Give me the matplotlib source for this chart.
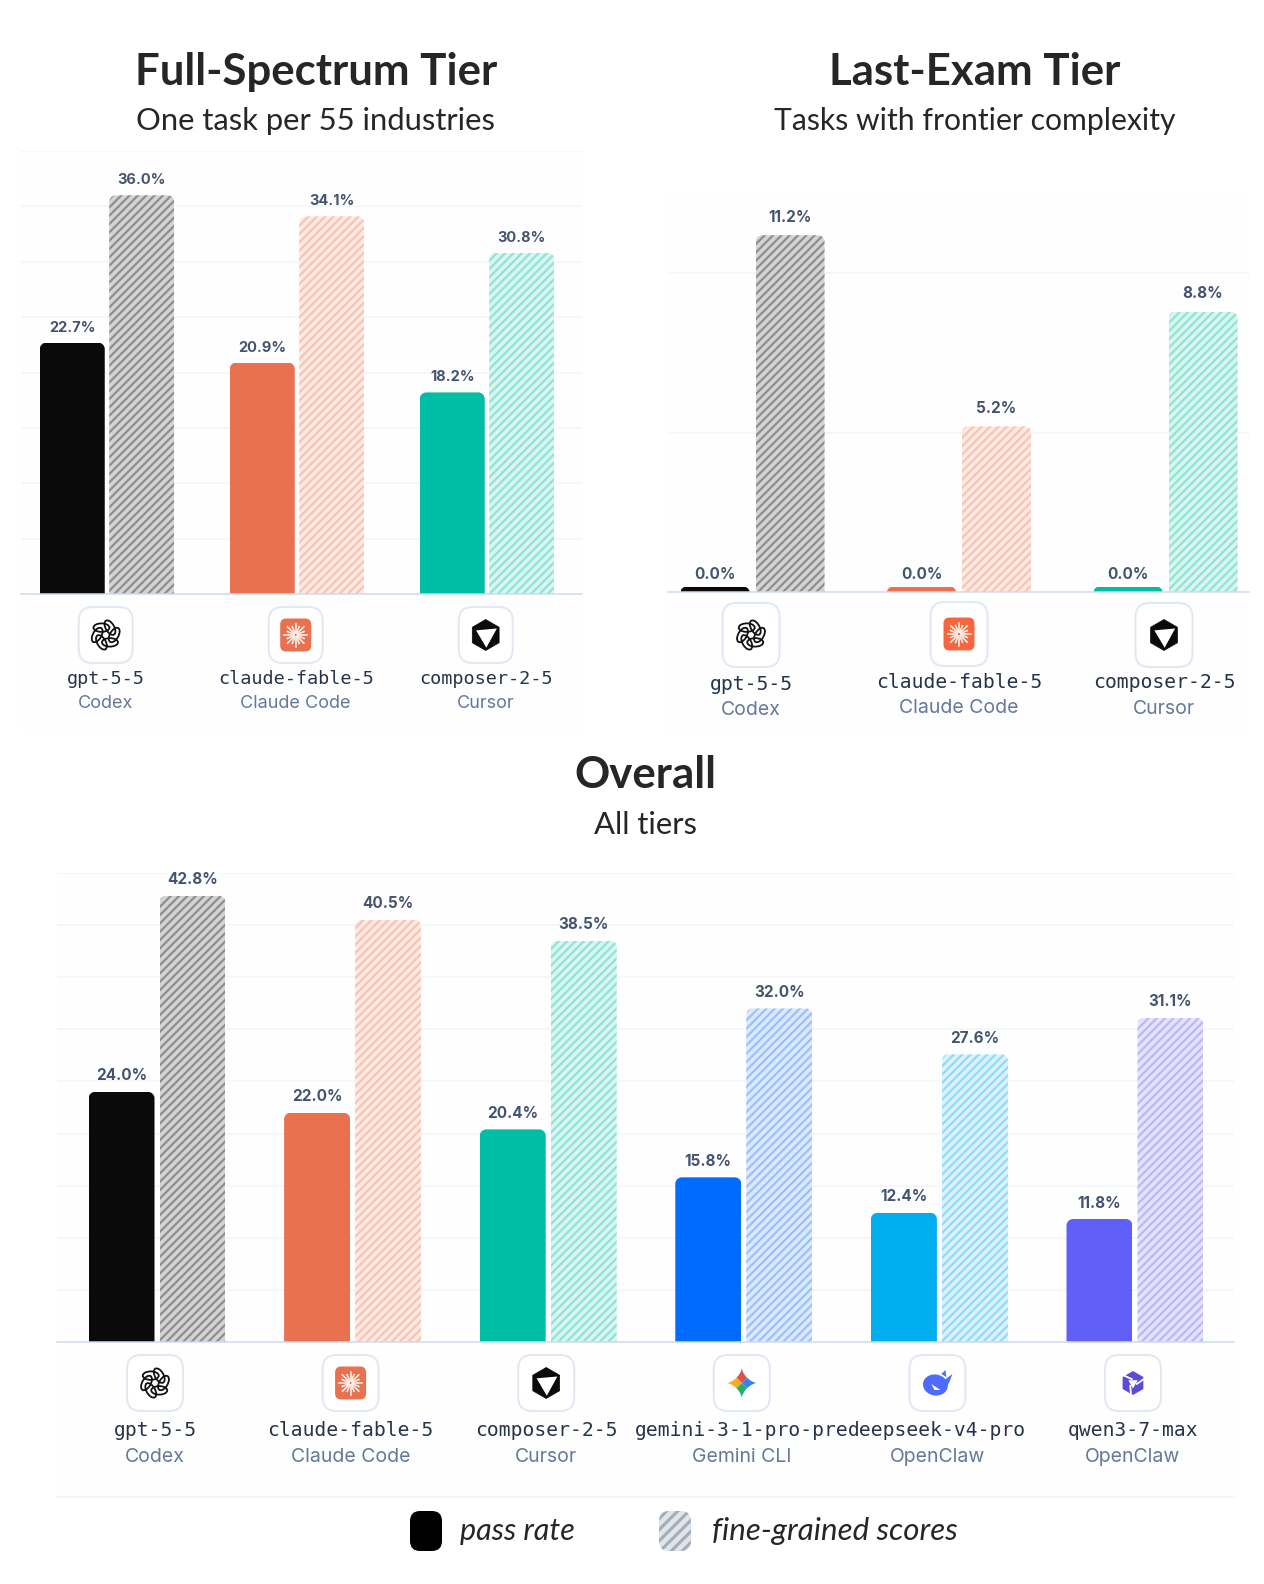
import numpy as np
import matplotlib
matplotlib.use('Agg')
import matplotlib.pyplot as plt
from matplotlib.patches import FancyBboxPatch, PathPatch, Polygon, Ellipse, Rectangle
from matplotlib.path import Path

W, H = 1264, 1584
DPI = 100

# data
full_models = ['gpt-5-5', 'claude-fable-5', 'composer-2-5']
full_agents = ['Codex', 'Claude Code', 'Cursor']
full_pass = [22.7, 20.9, 18.2]
full_fine = [36.0, 34.1, 30.8]

exam_models = ['gpt-5-5', 'claude-fable-5', 'composer-2-5']
exam_agents = ['Codex', 'Claude Code', 'Cursor']
exam_pass = [0.0, 0.0, 0.0]
exam_fine = [11.2, 5.2, 8.8]

all_models = ['gpt-5-5', 'claude-fable-5', 'composer-2-5', 'gemini-3-1-pro-pre', 'deepseek-v4-pro', 'qwen3-7-max']
all_agents = ['Codex', 'Claude Code', 'Cursor', 'Gemini CLI', 'OpenClaw', 'OpenClaw']
all_pass = [24.0, 22.0, 20.4, 15.8, 12.4, 11.8]
all_fine = [42.8, 40.5, 38.5, 32.0, 27.6, 31.1]

# solid colour, hatch background, hatch stripe
solid = ['#0a0a0a', '#e9714f', '#00bda5', '#006cff', '#00aef0', '#6060f8']
light = ['#d4d4d4', '#fdeae4', '#d9f5f0', '#dbe8fe', '#d9f2fd', '#e4e2fd']
stripe = ['#8e8e8e', '#f9c3b2', '#90e3d6', '#9cc0fb', '#93daf9', '#bcb8f8']
icons = ['openai', 'fable', 'cursor', 'gemini', 'deepseek', 'qwen']

MONO = 'DejaVu Sans Mono'
SANS = 'Inter'
HEAD = 'Lato'
plt.rcParams['hatch.linewidth'] = 1.6

fig = plt.figure(figsize=(W/DPI, H/DPI), dpi=DPI, facecolor='white')


def px_axes(zorder):
    a = fig.add_axes([0, 0, 1, 1], zorder=zorder)
    a.set_xlim(0, W)
    a.set_ylim(H, 0)
    a.axis('off')
    return a


bg = px_axes(-1)
ov = px_axes(5)


def rounded_top(x0, x1, top, rx, ry):
    k = 0.45
    verts = [(x0, 0), (x0, top-ry), (x0, top-ry*k), (x0+rx*k, top), (x0+rx, top),
             (x1-rx, top), (x1-rx*k, top), (x1, top-ry*k), (x1, top-ry), (x1, 0), (x0, 0)]
    codes = [Path.MOVETO, Path.LINETO, Path.CURVE4, Path.CURVE4, Path.CURVE4,
             Path.LINETO, Path.CURVE4, Path.CURVE4, Path.CURVE4, Path.LINETO, Path.CLOSEPOLY]
    return Path(verts, codes)


def draw_panel(box, ymax, first_x, step, bar_w, gap, pass_vals, fine_vals, val_size, val_off):
    """box = left, right, top, baseline [px]; first_x and step are group centres [px]"""
    left, right, top, base = box
    ax = fig.add_axes([left/W, 1-base/H, (right-left)/W, (base-top)/H], zorder=1)
    ax.patch.set_alpha(0)
    ax.set_xlim((left-first_x)/step, (right-first_x)/step)
    ax.set_ylim(0, ymax)
    ax.set_yticks(np.arange(5, ymax+0.1, 5))
    ax.set_xticks([])
    ax.tick_params(left=False, labelleft=False)
    ax.grid(axis='y', color='#f1f5f9', lw=1.1)
    ax.set_axisbelow(True)
    for s in ['left', 'right', 'top']:
        ax.spines[s].set_visible(False)
    ax.spines['bottom'].set_color('#cfdbe9')
    ax.spines['bottom'].set_linewidth(1.1)

    w = bar_w/step
    off = (bar_w+gap)/2/step
    px_y = (base-top)/ymax
    rx = 6.5/step
    ry = 6.5/px_y
    stub = 5.5/px_y  # 0.0 bars still show a small stub

    for i, (p, f) in enumerate(zip(pass_vals, fine_vals)):
        h = max(p, stub)
        b1 = ax.bar(i-off, h, w, color=solid[i], lw=0)[0]
        b2 = ax.bar(i+off, f, w, facecolor=light[i], edgecolor=stripe[i], hatch='////', lw=0)[0]
        for b, v in [(b1, h), (b2, f)]:
            x0 = b.get_x()
            clip = PathPatch(rounded_top(x0, x0+w, v, min(rx, w/2), min(ry, v)), transform=ax.transData)
            b.set_clip_path(clip)
        ax.annotate(f'{p:.1f}%', (i-off, h), xytext=(0, val_off if p > 0 else 12), textcoords='offset pixels',
                    ha='center', va='center', fontsize=val_size, color='#44546f', family=SANS, weight='bold')
        ax.annotate(f'{f:.1f}%', (i+off, f), xytext=(0, val_off), textcoords='offset pixels',
                    ha='center', va='center', fontsize=val_size, color='#44546f', family=SANS, weight='bold')
    return ax


def icon(kind, cx, cy, s=1.0, fable_col='#e9714f'):
    if kind == 'openai':
        for a in np.arange(0, 360, 60):
            t = np.deg2rad(a)
            ov.add_patch(Ellipse((cx+8.5*s*np.cos(t), cy+8.5*s*np.sin(t)), 16*s, 8.5*s, angle=a+120,
                                 fc='none', ec='#111111', lw=1.3))
    elif kind == 'fable':
        ov.add_patch(FancyBboxPatch((cx-12*s, cy-13*s), 24*s, 26*s, boxstyle=f'round,pad=3.5,rounding_size={6*s}',
                                    fc=fable_col, ec='none'))
        for j, a in enumerate(np.linspace(0, 2*np.pi, 16, endpoint=False)):
            r = (11.5 if j % 2 == 0 else 9)*s
            ov.plot([cx+2*np.cos(a), cx+r*np.cos(a)], [cy+2*np.sin(a), cy+r*np.sin(a)], color='#fdeee8', lw=1.2)
    elif kind == 'cursor':
        r = 15.5*s
        hexa = [(cx+r*np.sin(a), cy-r*np.cos(a)) for a in np.deg2rad(np.arange(0, 360, 60))]
        ov.add_patch(Polygon(hexa, fc='#0a0a0a', ec='#0a0a0a', lw=0.5, joinstyle='round'))
        ov.add_patch(Polygon([(cx-0.62*r, cy-0.3*r), (cx+0.72*r, cy-0.42*r), (cx+0.04*r, cy+0.82*r)], fc='white', ec='none'))
    elif kind == 'gemini':
        r = 15*s
        t = np.linspace(0, 2*np.pi, 161)
        q = np.abs(np.cos(t))**3, np.abs(np.sin(t))**3
        xs = cx+r*np.sign(np.cos(t))*q[0]
        ys = cy+r*np.sign(np.sin(t))*q[1]
        star = Polygon(np.column_stack([xs, ys]), transform=ov.transData, fc='none', ec='none')
        ov.add_patch(star)
        for col, pts in [('#e2504c', [(0, -1), (-1, -1), (1, -1)]), ('#f4ad25', [(-1, 0), (-1, -1), (-1, 1)]),
                         ('#3a7ff0', [(1, 0), (1, -1), (1, 1)]), ('#27ae68', [(0, 1), (-1, 1), (1, 1)])]:
            wedge = Polygon([(cx, cy)]+[(cx+r*a, cy+r*b) for a, b in pts[1:]], fc=col, ec='none')
            ov.add_patch(wedge)
            wedge.set_clip_path(star)
    elif kind == 'deepseek':
        c = '#4d6bfe'
        ov.add_patch(Ellipse((cx-2*s, cy+2*s), 25*s, 21*s, angle=10, fc=c, ec='none'))
        ov.add_patch(Polygon([(cx-6*s, cy+1*s), (cx+3*s, cy+7*s), (cx-3*s, cy+7*s)], fc='white', ec='none'))
        ov.add_patch(Polygon([(cx+7*s, cy-3*s), (cx+15*s, cy-9*s), (cx+12*s, cy-1*s), (cx+8*s, cy+6*s)], fc=c, ec='none'))
        ov.add_patch(Polygon([(cx+4*s, cy-9*s), (cx+8*s, cy-13*s), (cx+9*s, cy-6*s)], fc=c, ec='none'))
    elif kind == 'qwen':
        c = '#5a4bd8'
        r = 12*s
        ring = [(cx+r*np.cos(a), cy-r*np.sin(a)) for a in np.deg2rad(np.arange(30, 390, 60))]
        ov.add_patch(Polygon(ring, fc=c, ec='none'))
        for a in np.deg2rad([90, 210, 330]):
            ov.plot([cx+4*s*np.cos(a+0.3), cx+13*s*np.cos(a+0.9)], [cy-4*s*np.sin(a+0.3), cy-13*s*np.sin(a+0.9)],
                    color='white', lw=1.3)
        ov.add_patch(Polygon([(cx+5.5*s*np.cos(a), cy-5.5*s*np.sin(a)) for a in np.deg2rad([30, 150, 270])], fc='white', ec='none'))


def labels(centers, models, agents, card_y, mono_y, sub_y, kinds, card_w, card_h, mono_size, sub_size, fable_col='#e9714f'):
    for cx, m, ag, cy, my, sy, k in zip(centers, models, agents, card_y, mono_y, sub_y, kinds):
        ov.add_patch(FancyBboxPatch((cx-card_w/2+13, cy-card_h/2+13), card_w-26, card_h-26,
                                    boxstyle='round,pad=13,rounding_size=14', fc='white', ec='#e2e9f3', lw=1.5))
        icon(k, cx, cy, fable_col=fable_col)
        ov.text(cx, my, m, ha='center', va='center', family=MONO, fontsize=mono_size, color='#263348')
        ov.text(cx, sy, ag, ha='center', va='center', family=SANS, fontsize=sub_size, color='#64799a')


# panel backgrounds
for x0, y0, x1, y1 in [(21, 151, 582, 731), (668, 197, 1249, 731), (57, 873, 1234, 1497)]:
    bg.add_patch(Rectangle((x0, y0), x1-x0, y1-y0, fc='#fefefe', ec='none'))

# Full-Spectrum
draw_panel((21, 582, 151, 594), 40, 107, 190, 65, 4.5, full_pass, full_fine, 10.5, 15)
labels([105.7, 295.7, 485.7], full_models, full_agents, [635]*3, [679]*3, [703]*3, icons[:3], 54, 56, 13.3, 13)

# Last-Exam
draw_panel((668, 1249, 197, 592), 12.4, 752.5, 206.5, 69, 6, exam_pass, exam_fine, 11, 18)
labels([751, 959, 1164], exam_models, exam_agents, [635, 634, 635], [685, 682, 683], [710, 708, 709], icons[:3], 57, 64, 14.2, 14, '#f8663f')

# Overall
draw_panel((57, 1234, 873, 1342), 45, 157, 195.6, 66, 5, all_pass, all_fine, 11, 16)
labels([155+195.6*i for i in range(6)], all_models, all_agents, [1383]*6, [1430]*6, [1457]*6, icons, 56, 56, 14.1, 14)

# titles
TITLE = '#262626'
for x, y, t, sub, ty, sub_size in [(316, 72, 'Full-Spectrum Tier', 'One task per 55 industries', 121, 22.3),
                                   (975, 72, 'Last-Exam Tier', 'Tasks with frontier complexity', 121, 21.7),
                                   (645, 775, 'Overall', 'All tiers', 825, 22.3)]:
    ov.text(x, y, t, ha='center', va='center', family=HEAD, weight='bold', fontsize=31.5, color=TITLE)
    ov.text(x, ty, sub, ha='center', va='center', family=HEAD, fontsize=sub_size, color=TITLE)

# legend
ov.plot([57, 1234], [1497, 1497], color='#f1f5f9', lw=1.2)
ov.add_patch(FancyBboxPatch((419, 1520), 14, 22, boxstyle='round,pad=9,rounding_size=10', fc='black', ec='none'))
plt.rcParams['hatch.linewidth'] = 2.2
ov.add_patch(FancyBboxPatch((668, 1520), 14, 22, boxstyle='round,pad=9,rounding_size=10', fc='#e1e5e9', ec='#a3adb8', hatch='///', lw=0))
ov.text(460, 1531, 'pass rate', ha='left', va='center', family=HEAD, style='italic', fontsize=22, color=TITLE)
ov.text(712, 1531, 'fine-grained scores', ha='left', va='center', family=HEAD, style='italic', fontsize=22.5, color=TITLE)

fig.savefig('out.png', dpi=DPI, facecolor='white')
